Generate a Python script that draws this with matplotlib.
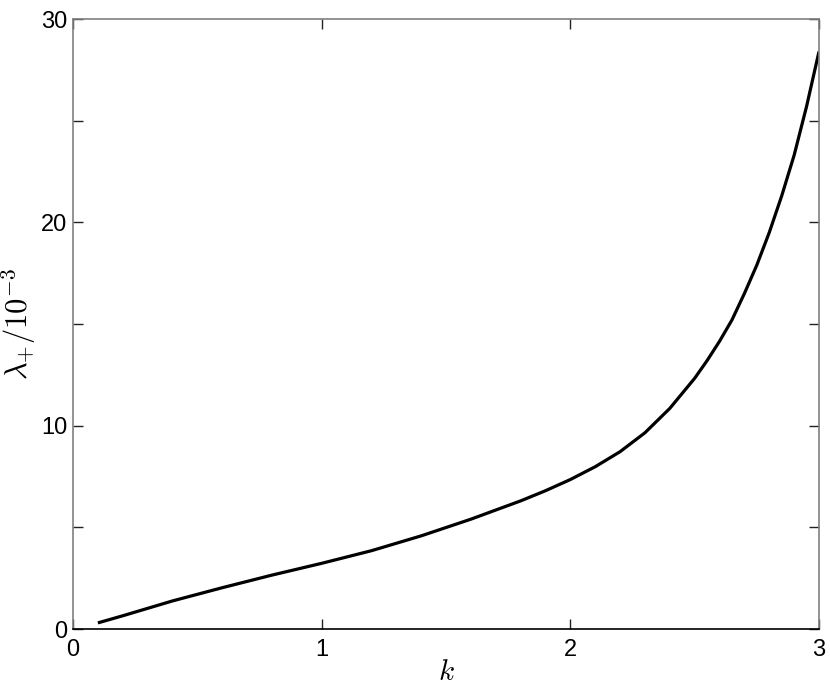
import matplotlib
matplotlib.use("Agg")
import matplotlib.pyplot as plt
from matplotlib.ticker import MultipleLocator

k = [0.1, 0.2, 0.4, 0.6, 0.8, 1.0, 1.2, 1.4, 1.6, 1.8, 1.9, 2.0, 2.1, 2.2,
     2.3, 2.4, 2.5, 2.55, 2.6, 2.65, 2.7, 2.75, 2.8, 2.85, 2.9, 2.95, 3.0]
lam = [0.3, 0.65, 1.38, 2.03, 2.65, 3.23, 3.85, 4.58, 5.4, 6.3, 6.8, 7.35,
       7.98, 8.72, 9.65, 10.85, 12.33, 13.2, 14.15, 15.2, 16.5, 17.9, 19.5,
       21.3, 23.3, 25.7, 28.4]

xticks = [0, 1, 2, 3]
yticks_major = [0, 10, 20, 30]

plt.rcParams['mathtext.fontset'] = 'cm'
plt.rcParams['font.family'] = ['Liberation Sans', 'DejaVu Sans']

fig = plt.figure(figsize=(8.30, 6.88), dpi=100)
ax = fig.add_axes([73/830, 59/688, 746/830, 610/688])

ax.plot(k, lam, color='black', linewidth=2.3, solid_capstyle='butt',
        solid_joinstyle='round')

ax.set_xlim(0, 3)
ax.set_ylim(0, 30)
ax.set_xticks(xticks)
ax.set_yticks(yticks_major)
ax.yaxis.set_minor_locator(MultipleLocator(5))

ax.tick_params(which='both', direction='in', top=True, right=True,
               labelsize=17, length=7, width=1, color='#222222')
ax.tick_params(axis='y', pad=4)
ax.tick_params(axis='x', pad=7)
ax.tick_params(which='minor', length=7)

for side in ['top', 'right', 'left']:
    ax.spines[side].set_color('#808080')
ax.spines['bottom'].set_color('black')
for s in ax.spines.values():
    s.set_linewidth(1.2)

ax.set_xlabel(r'$k$', fontsize=21, labelpad=-2)
ax.set_ylabel(r'$\lambda_{+}/10^{-3}$', fontsize=22, labelpad=2)

fig.savefig('out.png', dpi=100)
